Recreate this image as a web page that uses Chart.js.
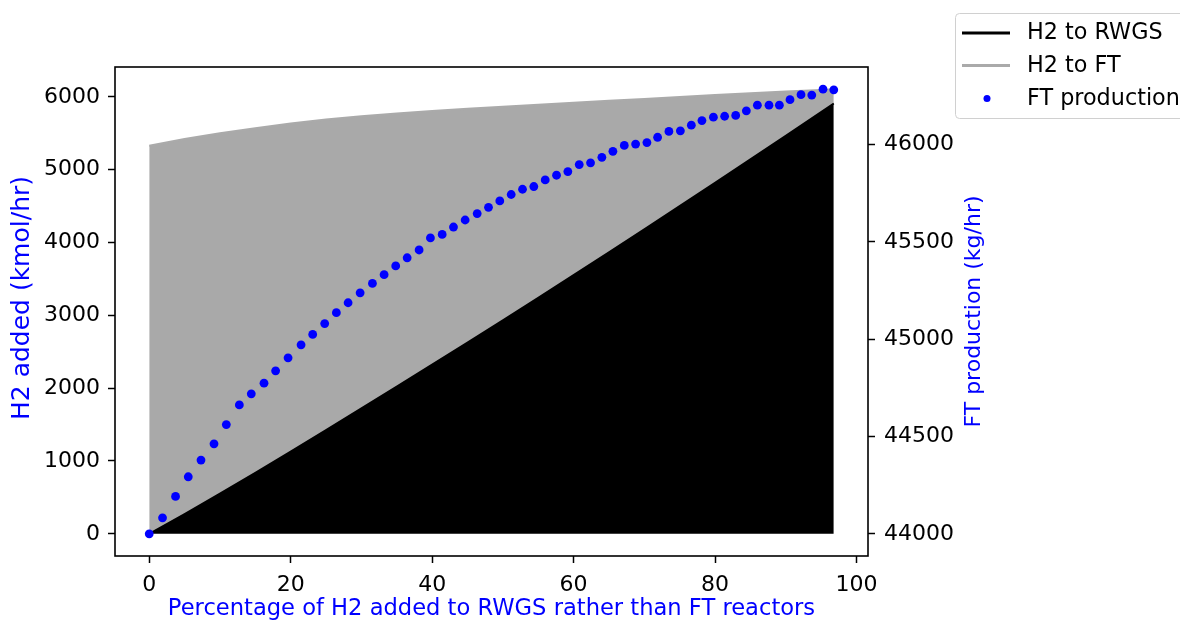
<!DOCTYPE html>
<html><head><meta charset="utf-8">
<script src="https://cdn.jsdelivr.net/npm/chart.js@4.4.1/dist/chart.umd.min.js"></script>
<style>html,body{margin:0;padding:0;background:#fff}#wrap{width:1180px;height:624px;position:relative;overflow:hidden}</style>
</head><body><div id="wrap"><canvas id="c" width="1180" height="624"></canvas></div>
<script>
// ---- data ----
const pctPoints = [0, 1.88, 3.72, 5.52, 7.32, 9.16, 10.90, 12.74, 14.43, 16.23, 17.87, 19.63, 21.47, 23.11, 24.81, 26.46, 28.12, 29.82, 31.56, 33.21, 34.85, 36.47, 38.16, 39.76, 41.42, 43.02, 44.67, 46.37, 47.97, 49.57, 51.18, 52.78, 54.38, 55.99, 57.59, 59.19, 60.80, 62.40, 64.00, 65.56, 67.17, 68.77, 70.37, 71.88, 73.48, 75.10, 76.65, 78.15, 79.77, 81.36, 82.92, 84.43, 85.99, 87.63, 89.10, 90.60, 92.16, 93.68, 95.27, 96.79];
const ftProduction = [44000, 44082, 44192, 44293, 44379, 44462, 44561, 44662, 44719, 44774, 44837, 44904, 44971, 45024, 45080, 45136, 45187, 45238, 45286, 45331, 45376, 45418, 45458, 45520, 45538, 45576, 45612, 45645, 45677, 45710, 45743, 45770, 45784, 45818, 45842, 45861, 45897, 45906, 45934, 45965, 45995, 46002, 46010, 46037, 46067, 46070, 46099, 46123, 46140, 46145, 46149, 46173, 46202, 46202, 46202, 46230, 46256, 46254, 46284, 46281];
const areaPct = [0, 5, 10, 15, 20, 25, 30, 35, 40, 45, 50, 55, 60, 65, 70, 75, 80, 85, 90, 95, 96.79];
const h2ToRWGS = [0, 271, 550, 836, 1127, 1423, 1721, 2020, 2322, 2626, 2932, 3240, 3551, 3864, 4180, 4499, 4819, 5141, 5465, 5790, 5909];
const h2ToFT = [5330, 5149, 4950, 4734, 4508, 4267, 4014, 3752, 3483, 3209, 2931, 2650, 2367, 2081, 1792, 1499, 1205, 907, 607, 305, 196];
const xTicks = [0, 20, 40, 60, 80, 100];
const yTicks = [0, 1000, 2000, 3000, 4000, 5000, 6000];
const y2Ticks = [44000, 44500, 45000, 45500, 46000];
const seriesNames = ['H2 to RWGS', 'H2 to FT', 'FT production'];
const xTitle = 'Percentage of H2 added to RWGS rather than FT reactors';
const yTitle = 'H2 added (kmol/hr)';
const y2Title = 'FT production (kg/hr)';

const FONT = 'DejaVu Sans';
const BLUE = '#0000ff';
const GRAY = '#a9a9a9';

const toXY = (xs, ys) => xs.map((x, i) => ({x: x, y: ys[i]}));

const framePlugin = {
  id: 'frame',
  afterDatasetsDraw(chart) {
    const a = chart.chartArea, ctx = chart.ctx;
    ctx.save();
    ctx.strokeStyle = '#000';
    ctx.lineWidth = 1.6;
    ctx.strokeRect(a.left, a.top, a.right - a.left, a.bottom - a.top);
    ctx.restore();
  }
};

// vertical axis titles, both reading bottom-to-top as in the reference
const yTitlesPlugin = {
  id: 'yTitles',
  afterDraw(chart) {
    const ctx = chart.ctx;
    const a = chart.chartArea;
    const items = [
      {text: yTitle, x: 22.5, y: 298, size: 25},
      {text: y2Title, x: 974, y: (a.top + a.bottom) / 2, size: 22}
    ];
    ctx.save();
    ctx.fillStyle = BLUE;
    ctx.textAlign = 'center';
    ctx.textBaseline = 'middle';
    for (const it of items) {
      ctx.save();
      ctx.font = it.size + 'px "' + FONT + '"';
      ctx.translate(it.x, it.y);
      ctx.rotate(-Math.PI / 2);
      ctx.fillText(it.text, 0, 0);
      ctx.restore();
    }
    ctx.restore();
  }
};

const legendPlugin = {
  id: 'mplLegend',
  afterDraw(chart) {
    const ctx = chart.ctx;
    const ds = chart.data.datasets;
    ctx.save();
    const bx = 955.5, by = 13.5, bw = 260, bh = 105, r = 4;
    ctx.beginPath();
    ctx.moveTo(bx + r, by);
    ctx.lineTo(bx + bw - r, by);
    ctx.arcTo(bx + bw, by, bx + bw, by + r, r);
    ctx.lineTo(bx + bw, by + bh - r);
    ctx.arcTo(bx + bw, by + bh, bx + bw - r, by + bh, r);
    ctx.lineTo(bx + r, by + bh);
    ctx.arcTo(bx, by + bh, bx, by + bh - r, r);
    ctx.lineTo(bx, by + r);
    ctx.arcTo(bx, by, bx + r, by, r);
    ctx.closePath();
    ctx.fillStyle = 'rgba(255,255,255,0.85)';
    ctx.fill();
    ctx.strokeStyle = '#d0d0d0';
    ctx.lineWidth = 1;
    ctx.stroke();
    const rows = [33, 65.5, 98.5];
    ctx.lineWidth = 3;
    ctx.strokeStyle = '#000';
    ctx.beginPath(); ctx.moveTo(962, rows[0]); ctx.lineTo(1010, rows[0]); ctx.stroke();
    ctx.strokeStyle = '#aaaaaa';
    ctx.beginPath(); ctx.moveTo(962, rows[1]); ctx.lineTo(1010, rows[1]); ctx.stroke();
    ctx.fillStyle = BLUE;
    ctx.beginPath(); ctx.arc(987, rows[2], 3.5, 0, Math.PI * 2); ctx.fill();
    ctx.fillStyle = '#000';
    ctx.font = '22.3px "' + FONT + '"';
    ctx.textBaseline = 'middle';
    ctx.textAlign = 'left';
    for (let i = 0; i < 3; i++) ctx.fillText(ds[i].label, 1027, rows[i] + 0.5);
    ctx.restore();
  }
};

const tickFont = {family: FONT, size: 22};
const gridOpts = {display: true, drawOnChartArea: false, drawTicks: true, tickLength: 7, tickColor: '#000', tickWidth: 1.5};

new Chart(document.getElementById('c'), {
  type: 'line',
  data: {
    datasets: [
      {
        label: seriesNames[0],
        data: toXY(areaPct, h2ToRWGS),
        yAxisID: 'y',
        borderColor: '#000',
        backgroundColor: '#000',
        borderWidth: 2,
        pointRadius: 0,
        fill: 'origin',
        tension: 0,
        order: 1
      },
      {
        label: seriesNames[1],
        data: toXY(areaPct, h2ToFT),
        yAxisID: 'y',
        borderColor: '#aaaaaa',
        backgroundColor: GRAY,
        borderWidth: 2,
        pointRadius: 0,
        fill: '-1',
        tension: 0,
        order: 1
      },
      {
        type: 'scatter',
        label: seriesNames[2],
        data: toXY(pctPoints, ftProduction),
        yAxisID: 'y2',
        backgroundColor: BLUE,
        borderColor: BLUE,
        borderWidth: 0,
        pointRadius: 4.4,
        pointHoverRadius: 4.4,
        order: 0
      }
    ]
  },
  options: {
    responsive: false,
    animation: false,
    devicePixelRatio: 1,
    layout: {padding: {top: 67, left: 0, right: 0, bottom: 0}},
    plugins: {legend: {display: false}, tooltip: {enabled: false}},
    scales: {
      x: {
        type: 'linear', position: 'bottom', min: -4.84, max: 101.63,
        grid: gridOpts, border: {display: false},
        afterBuildTicks: s => { s.ticks = xTicks.map(v => ({value: v})); },
        afterFit: s => { s.height = 68; },
        ticks: {font: tickFont, color: '#000', padding: 9, maxRotation: 0, autoSkip: false, callback: v => String(v)},
        title: {display: true, text: xTitle, color: BLUE, font: {family: FONT, size: 22.6}, padding: {top: 0, bottom: 1}}
      },
      y: {
        type: 'linear', position: 'left', stacked: true, min: -305, max: 6410,
        grid: gridOpts, border: {display: false},
        afterBuildTicks: s => { s.ticks = yTicks.map(v => ({value: v})); },
        afterFit: s => { s.width = 115; },
        ticks: {font: tickFont, color: '#000', padding: 8, autoSkip: false, callback: v => String(v)},
        title: {display: false, text: yTitle}
      },
      y2: {
        type: 'linear', position: 'right', stacked: false, min: 43886, max: 46398,
        grid: gridOpts, border: {display: false},
        afterBuildTicks: s => { s.ticks = y2Ticks.map(v => ({value: v})); },
        afterFit: s => { s.width = 312; },
        ticks: {font: tickFont, color: '#000', padding: 9, autoSkip: false, callback: v => String(v)},
        title: {display: false, text: y2Title}
      }
    }
  },
  plugins: [framePlugin, yTitlesPlugin, legendPlugin]
});
</script>
</body></html>
